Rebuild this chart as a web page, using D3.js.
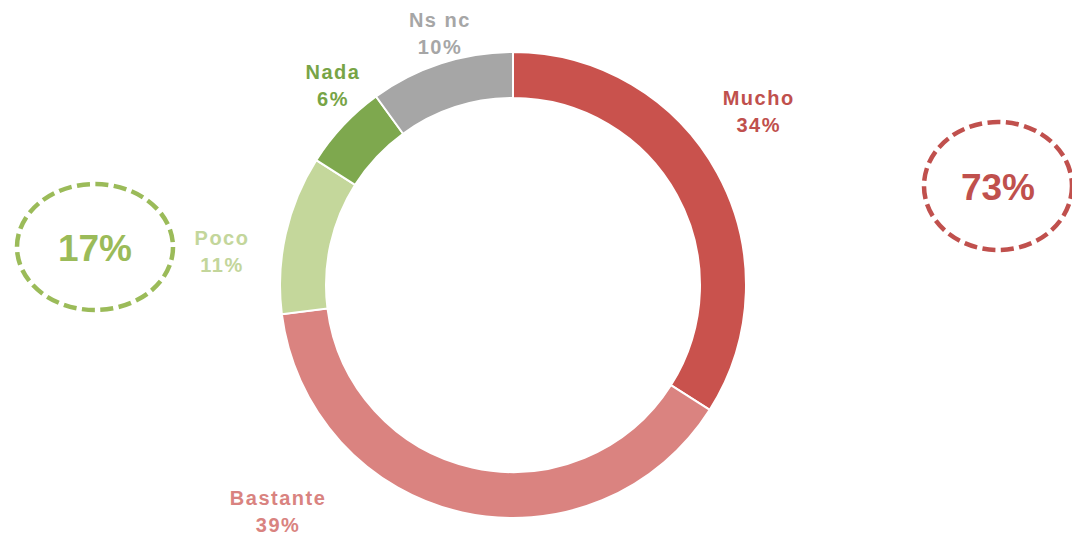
<!DOCTYPE html>
<html>
<head>
<meta charset="utf-8">
<script src="https://cdn.jsdelivr.net/npm/d3@7"></script>
<style>
  html, body { margin: 0; padding: 0; background: #fff; }
  svg { display: block; font-family: "Liberation Sans", Arial, sans-serif; }
</style>
</head>
<body>
<svg id="chart" width="1072" height="536"></svg>
<script>
// data
var categories = ["Mucho", "Bastante", "Poco", "Nada", "Ns nc"];
var values     = [34, 39, 11, 6, 10];
var colors     = ["#C9524D", "#DA8380", "#C4D79B", "#7EA84E", "#A6A6A6"];
var labelColors = ["#C0504D", "#D98380", "#C3D69B", "#77A446", "#A6A6A6"];
// groups summed inside the dashed ellipses
var groupA = ["Poco", "Nada"];
var groupB = ["Mucho", "Bastante"];

// layout
var WIDTH = 1072, HEIGHT = 536;
var CX = 513, CY = 285;
var OUTER = 233, INNER = 187;
// label anchor: angle (deg from top, clockwise) and radius from centre
var labelAnchors = [[54.7, 301], [226.1, 326], [276.7, 293], [318, 269], [343.8, 262]];

var svg = d3.select('#chart');
var g = svg.append('g').attr('transform', 'translate(' + CX + ',' + CY + ')');

var pie = d3.pie().sort(null).value(d => d.value);
var arcs = pie(categories.map((c, i) => ({ name: c, value: values[i], i: i })));

var arc = d3.arc().innerRadius(INNER).outerRadius(OUTER);

g.selectAll('path.slice').data(arcs).enter().append('path')
  .attr('class', 'slice')
  .attr('d', arc)
  .attr('fill', d => colors[d.data.i])
  .attr('stroke', '#fff')
  .attr('stroke-width', 2);

// labels
var labelArc = d3.arc();
var lbl = g.selectAll('text.lbl').data(arcs).enter().append('text')
  .attr('class', 'lbl')
  .attr('text-anchor', 'middle')
  .style('font-size', '20px')
  .style('font-weight', 'bold')
  .style('letter-spacing', '1.5px')
  .attr('fill', d => labelColors[d.data.i])
  .attr('transform', d => {
    var a = labelAnchors[d.data.i];
    var rad = a[0] * Math.PI / 180;
    var c = labelArc.centroid({ innerRadius: a[1], outerRadius: a[1], startAngle: rad, endAngle: rad });
    return 'translate(' + c[0] + ',' + c[1] + ')';
  });
lbl.append('tspan').attr('x', 0).attr('y', -6).text(d => d.data.name);
lbl.append('tspan').attr('x', 0).attr('y', 21).text(d => d.data.value + '%');

// dashed ellipses with group totals
function total(group) {
  return d3.sum(group, n => values[categories.indexOf(n)]);
}
var bubbles = [
  { cx: 95, cy: 247, rx: 78, ry: 63, color: "#9BBB59", value: total(groupA) },
  { cx: 998, cy: 186, rx: 74, ry: 64, color: "#C0504D", value: total(groupB) }
];
var bg = svg.selectAll('g.bubble').data(bubbles).enter().append('g')
  .attr('class', 'bubble')
  .attr('transform', d => 'translate(' + d.cx + ',' + d.cy + ')');
bg.append('ellipse')
  .attr('rx', d => d.rx)
  .attr('ry', d => d.ry)
  .attr('fill', 'none')
  .attr('stroke', d => d.color)
  .attr('stroke-width', 4.5)
  .attr('stroke-dasharray', '13,5.5');
bg.append('text')
  .attr('text-anchor', 'middle')
  .attr('y', 14)
  .style('font-size', '37px')
  .style('font-weight', 'bold')
  .attr('fill', d => d.color)
  .text(d => d.value + '%');
</script>
</body>
</html>
